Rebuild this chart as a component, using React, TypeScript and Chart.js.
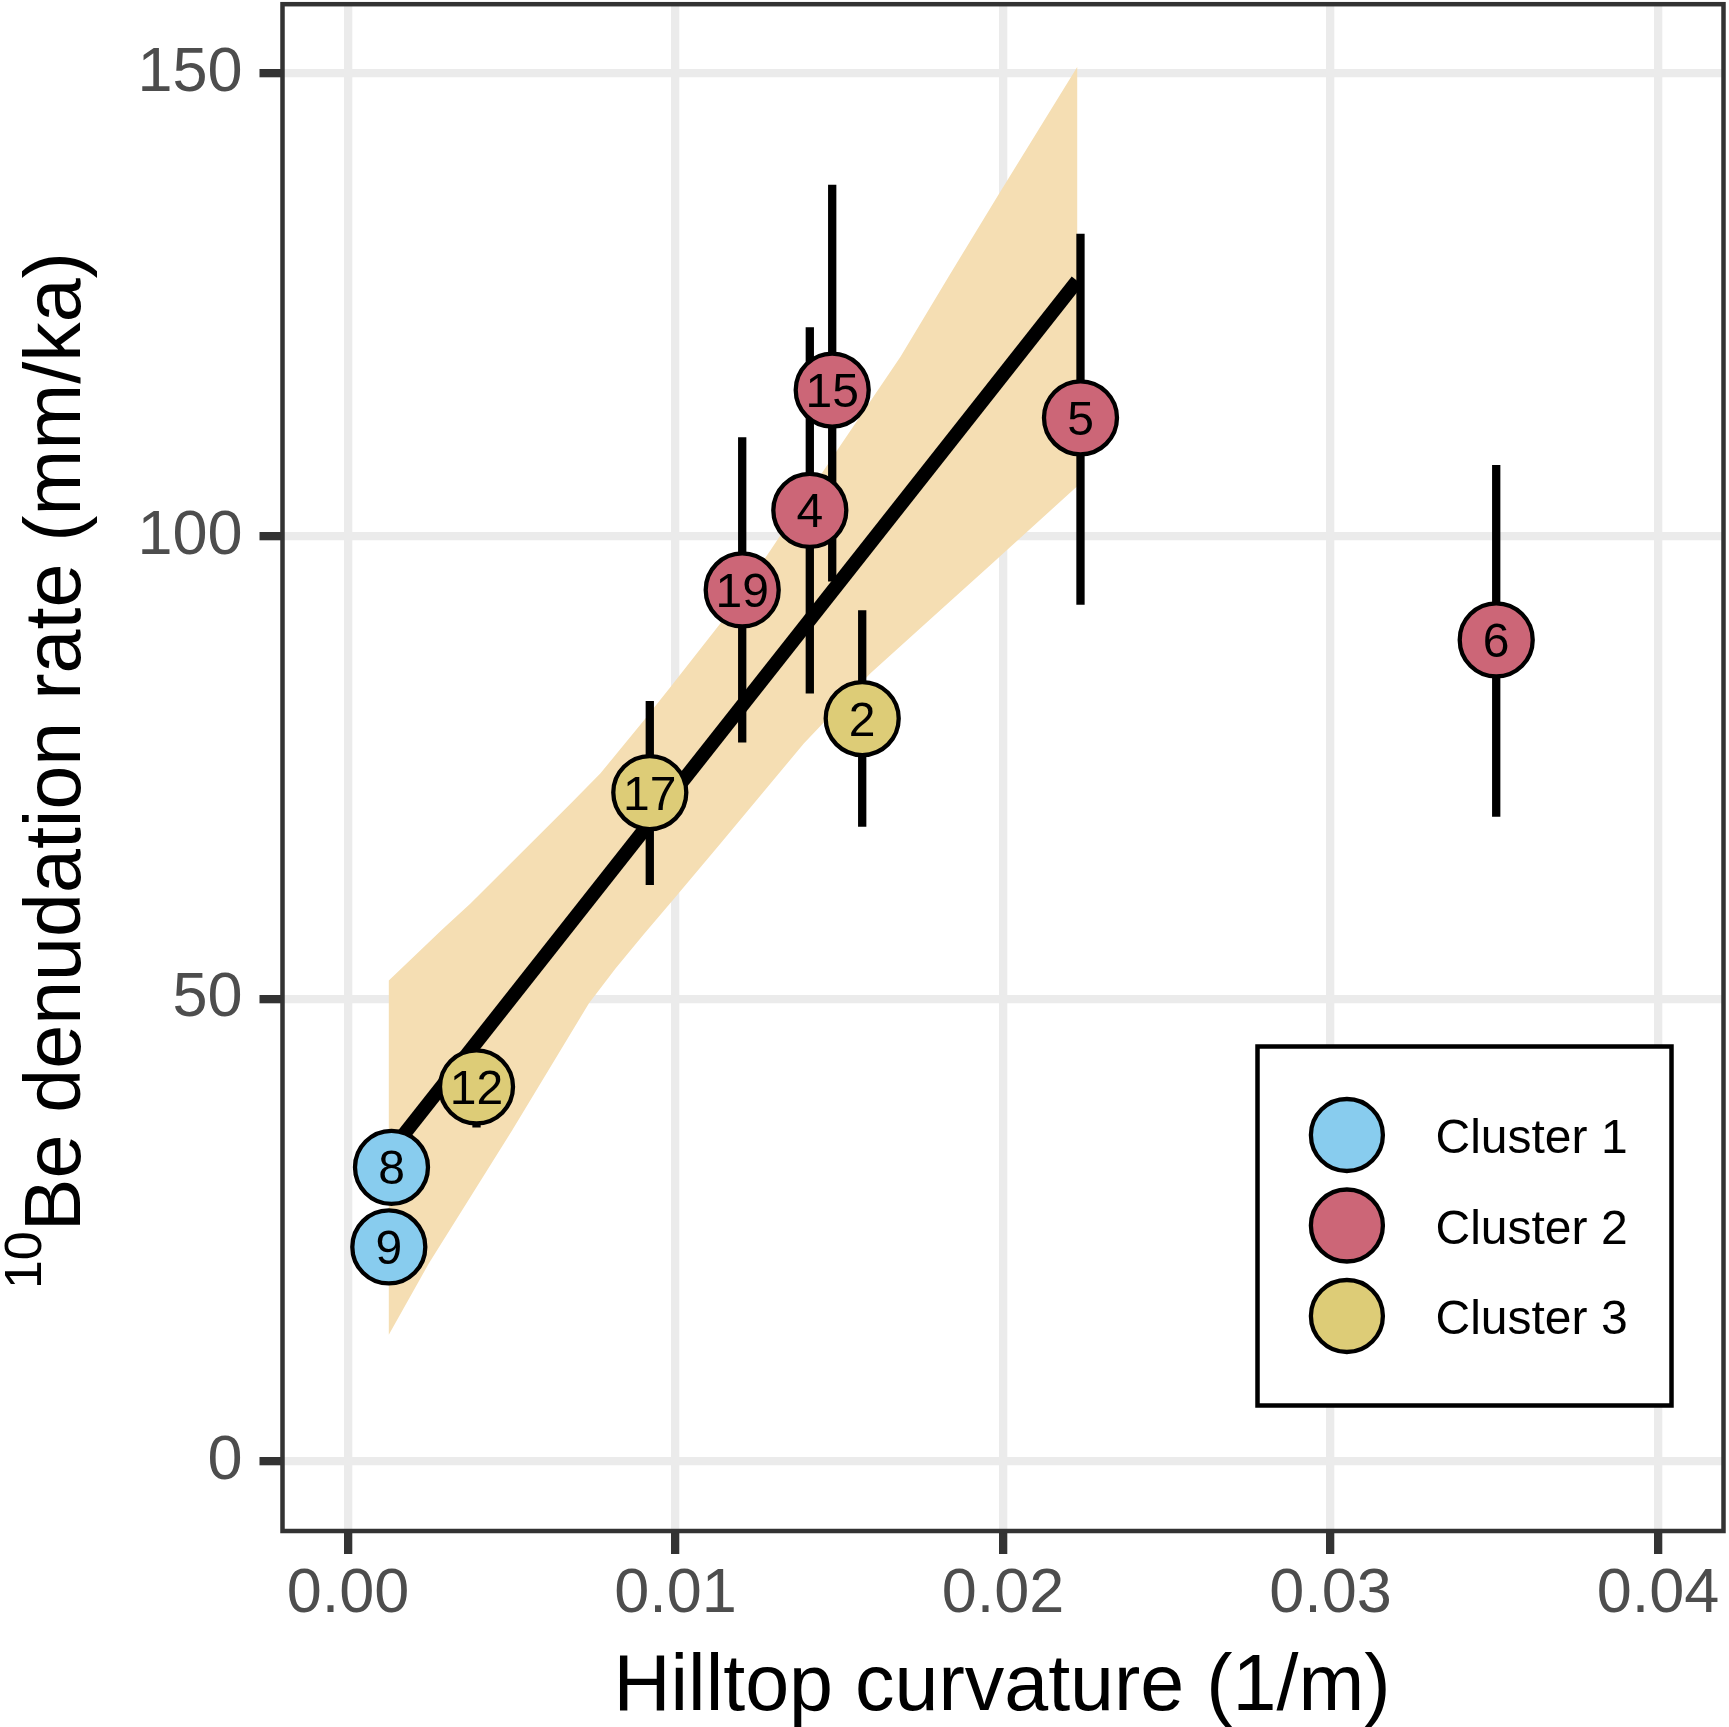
import { useEffect, useRef } from 'react';
import Chart from 'chart.js/auto';

const FONT = '"Liberation Sans", Arial, sans-serif';

// samples
const sampleIds = ['8', '9', '12', '17', '19', '4', '15', '2', '5', '6'];
const sampleCluster = [1, 1, 3, 3, 2, 2, 2, 3, 2, 2];
const curvature = [0.001328, 0.001246, 0.003924, 0.009215, 0.012037, 0.014101, 0.014785, 0.015701, 0.022366, 0.03506];
const denudation = [31.8, 23.2, 40.5, 72.3, 94.2, 102.8, 115.8, 80.3, 112.8, 88.8];
const denudationLow = [29.3, 20.7, 36.1, 62.3, 77.7, 83.0, 95.1, 68.6, 92.6, 69.7];
const denudationHigh = [34.3, 25.7, 44.5, 82.2, 110.7, 122.6, 138.0, 92.0, 132.7, 107.7];

const clusterNames = ['Cluster 1', 'Cluster 2', 'Cluster 3'];
const clusterColors = ['#88CCEE', '#CC6677', '#DDCC77'];

// regression line and confidence band
const fitX = [0.001246, 0.022266];
const fitY = [33.3, 127.6];
const bandUpperX = [0.001246, 0.002876, 0.00374, 0.006794, 0.00771, 0.009032, 0.009847, 0.011374, 0.0129, 0.014937, 0.01687, 0.018397, 0.019823, 0.022266];
const bandUpperY = [52.0, 57.5, 60.3, 71.1, 74.4, 80.1, 83.7, 90.6, 98.5, 109.3, 119.4, 128.4, 136.7, 150.7];
const bandLowerX = [0.001246, 0.002467, 0.005014, 0.007353, 0.008168, 0.009032, 0.009948, 0.011374, 0.013918, 0.015954, 0.017991, 0.019618, 0.022266];
const bandLowerY = [13.7, 21.4, 35.8, 49.5, 53.3, 57.0, 60.8, 66.8, 77.6, 85.2, 91.7, 96.9, 105.4];

const xTicks = [0, 0.01, 0.02, 0.03, 0.04];
const yTicks = [0, 50, 100, 150];

const noPadding = (s: any) => {
    s.paddingTop = 0;
    s.paddingBottom = 0;
    s.paddingLeft = 0;
    s.paddingRight = 0;
};

const overlay = {
    id: 'overlay',
    afterDatasetsDraw(chart: any) {
        const { ctx, chartArea: a } = chart;
        ctx.save();

        // sample numbers inside the points
        ctx.fillStyle = '#000000';
        ctx.font = `48px ${FONT}`;
        ctx.textAlign = 'center';
        ctx.textBaseline = 'alphabetic';
        clusterNames.forEach((_, ci) => {
            const meta = chart.getDatasetMeta(3 + ci);
            const ids = sampleIds.filter((_id, i) => sampleCluster[i] === ci + 1);
            meta.data.forEach((el: any, i: number) => {
                ctx.fillText(ids[i], el.x, el.y + 17);
            });
        });

        // panel border
        ctx.strokeStyle = '#333333';
        ctx.lineWidth = 4.5;
        ctx.strokeRect(a.left, a.top, a.right - a.left, a.bottom - a.top);

        // legend
        const bx = a.right - 466;
        const by = a.bottom - 484.5;
        const bw = 414;
        const bh = 359;
        ctx.fillStyle = '#ffffff';
        ctx.fillRect(bx, by, bw, bh);
        ctx.strokeStyle = '#000000';
        ctx.lineWidth = 4.5;
        ctx.strokeRect(bx, by, bw, bh);
        clusterNames.forEach((name, ci) => {
            const cy = by + 88.5 + ci * 90.5;
            ctx.beginPath();
            ctx.arc(bx + 89.4, cy, 36, 0, Math.PI * 2);
            ctx.fillStyle = clusterColors[ci];
            ctx.fill();
            ctx.lineWidth = 4.3;
            ctx.strokeStyle = '#000000';
            ctx.stroke();
            ctx.fillStyle = '#000000';
            ctx.font = `48px ${FONT}`;
            ctx.textAlign = 'left';
            ctx.fillText(name, bx + 178, cy + 18);
        });
        ctx.restore();
    },
    afterDraw(chart: any) {
        const { ctx, chartArea: a } = chart;
        ctx.save();
        ctx.fillStyle = '#000000';
        ctx.textBaseline = 'alphabetic';

        // x title
        ctx.font = `79px ${FONT}`;
        ctx.textAlign = 'center';
        ctx.fillText('Hilltop curvature (1/m)', (a.left + a.right) / 2 - 1, 1710);

        // y title with superscript
        ctx.textAlign = 'left';
        ctx.font = `52px ${FONT}`;
        const sup = '10';
        const wSup = ctx.measureText(sup).width;
        ctx.font = `79px ${FONT}`;
        const main = 'Be denudation rate (mm/ka)';
        const wMain = ctx.measureText(main).width;
        const start = (a.top + a.bottom) / 2 + 3 + (wSup + wMain) / 2;
        ctx.translate(80, start);
        ctx.rotate(-Math.PI / 2);
        ctx.font = `52px ${FONT}`;
        ctx.fillText(sup, 0, -39);
        ctx.font = `79px ${FONT}`;
        ctx.fillText(main, wSup, 0);
        ctx.restore();
    }
};

export default function App() {
    const canvas = useRef<HTMLCanvasElement>(null);

    useEffect(() => {
        const band = [
            ...bandUpperX.map((x, i) => ({ x, y: bandUpperY[i] })),
            ...bandLowerX.map((x, i) => ({ x, y: bandLowerY[i] })).reverse()
        ];
        const errorBars: { x: number, y: number | null }[] = [];
        curvature.forEach((x, i) => {
            errorBars.push({ x, y: denudationLow[i] }, { x, y: denudationHigh[i] }, { x, y: null });
        });

        const grid = {
            color: '#EBEBEB',
            lineWidth: 8.3,
            tickColor: '#333333',
            tickWidth: 8.3,
            tickLength: 23,
            drawTicks: true
        };

        const chart = new Chart(
            // @ts-expect-error next
            canvas.current,
            {
                type: 'scatter',
                data: {
                    datasets: [
                        {
                            type: 'line',
                            data: band,
                            fill: 'shape',
                            showLine: true,
                            backgroundColor: '#F5DEB3',
                            borderColor: 'rgba(0,0,0,0)',
                            borderWidth: 0,
                            pointRadius: 0,
                            tension: 0,
                            order: 10
                        },
                        {
                            type: 'line',
                            data: errorBars,
                            showLine: true,
                            spanGaps: false,
                            fill: false,
                            borderColor: '#000000',
                            borderWidth: 8.3,
                            pointRadius: 0,
                            order: 9
                        },
                        {
                            type: 'line',
                            data: fitX.map((x, i) => ({ x, y: fitY[i] })),
                            showLine: true,
                            fill: false,
                            borderColor: '#000000',
                            borderWidth: 14,
                            pointRadius: 0,
                            order: 8
                        },
                        ...clusterNames.map((name, ci) => ({
                            label: name,
                            data: curvature
                                .map((x, i) => ({ x, y: denudation[i], c: sampleCluster[i] }))
                                .filter(p => p.c === ci + 1)
                                .map(p => ({ x: p.x, y: p.y })),
                            backgroundColor: clusterColors[ci],
                            borderColor: '#000000',
                            borderWidth: 4.3,
                            pointRadius: 36.5,
                            pointHoverRadius: 36.5,
                            order: 3 - ci
                        }))
                    ]
                },
                options: {
                    animation: false,
                    responsive: true,
                    maintainAspectRatio: false,
                    events: [],
                    layout: { autoPadding: false, padding: { top: 4.2, right: 5.5, left: 0, bottom: 0 } },
                    plugins: {
                        legend: { display: false },
                        tooltip: { enabled: false }
                    },
                    scales: {
                        x: {
                            type: 'linear',
                            min: -0.002,
                            max: 0.042,
                            afterBuildTicks: (s: any) => { s.ticks = xTicks.map(value => ({ value })); },
                            afterFit: (s: any) => { s.height = 196; noPadding(s); },
                            grid,
                            border: { display: false },
                            ticks: {
                                callback: (v: any) => Number(v).toFixed(2),
                                color: '#4D4D4D',
                                font: { family: FONT, size: 63 },
                                padding: 3,
                                maxRotation: 0,
                                autoSkip: false
                            }
                        },
                        y: {
                            type: 'linear',
                            min: -7.5,
                            max: 157.5,
                            afterBuildTicks: (s: any) => { s.ticks = yTicks.map(value => ({ value })); },
                            afterFit: (s: any) => { s.width = 282.5; noPadding(s); },
                            grid,
                            border: { display: false },
                            ticks: {
                                callback: (v: any) => String(v),
                                color: '#4D4D4D',
                                font: { family: FONT, size: 63 },
                                padding: 17,
                                autoSkip: false
                            }
                        }
                    }
                },
                plugins: [overlay]
            }
        );

        return () => {
            chart.destroy();
        };
    }, []);

    return (
        <div style={{ position: 'absolute', left: 0, top: 0, width: 1729, height: 1727, background: '#ffffff' }}>
            <canvas ref={canvas} role="img" aria-label="10Be denudation rate vs hilltop curvature"></canvas>
        </div>
    );
}
